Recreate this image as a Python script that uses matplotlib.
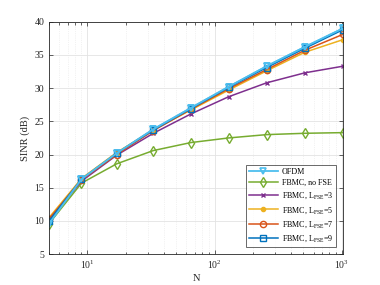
import matplotlib
matplotlib.use("Agg")
import matplotlib.pyplot as plt
from matplotlib.ticker import LogLocator, NullFormatter, MultipleLocator

plt.rcParams['font.family'] = ['Liberation Serif', 'DejaVu Serif']
plt.rcParams['mathtext.fontset'] = 'custom'
plt.rcParams['mathtext.rm'] = 'Liberation Serif'

N = [5, 9, 17, 33, 65, 129, 257, 513, 1025]
ofdm   = [9.6, 16.3, 20.2, 23.8, 27.0, 30.2, 33.3, 36.2, 39.0]
no_fse = [9.6, 15.7, 18.6, 20.6, 21.8, 22.5, 23.0, 23.2, 23.3]
l3     = [10.2, 16.0, 19.9, 23.2, 26.1, 28.7, 30.8, 32.3, 33.3]
l5     = [10.5, 16.4, 20.3, 23.7, 26.7, 29.7, 32.6, 35.4, 37.3]
l7     = [10.3, 16.2, 20.0, 23.6, 26.8, 29.9, 32.8, 35.7, 38.1]
l9     = [10.0, 16.3, 20.2, 23.7, 26.9, 30.1, 33.1, 36.0, 38.8]

labels = ['OFDM', 'FBMC, no FSE',
          'FBMC, L$_\\mathregular{FSE}$=3',
          'FBMC, L$_\\mathregular{FSE}$=5',
          'FBMC, L$_\\mathregular{FSE}$=7',
          'FBMC, L$_\\mathregular{FSE}$=9']

fig = plt.figure(figsize=(3.8, 2.85), dpi=100)
ax = fig.add_axes([0.129, 0.108, 0.774, 0.816])

ax.plot(N, ofdm, color='#4DBEEE', marker='v', ms=5, mfc='none', mew=1.2, lw=1.3, label=labels[0])
ax.plot(N, no_fse, color='#77AC30', marker='d', ms=5, mfc='none', mew=1.0, lw=1.1, label=labels[1])
ax.plot(N, l3, color='#7E2F8E', marker='x', ms=3.5, mew=1.0, lw=1.1, label=labels[2])
ax.plot(N, l5, color='#EDB120', marker='.', ms=6, lw=1.1, label=labels[3])
ax.plot(N, l7, color='#D95319', marker='o', ms=4.5, mfc='none', mew=1.0, lw=1.1, label=labels[4])
ax.plot(N, l9, color='#0072BD', marker='s', ms=4, mfc='none', mew=1.0, lw=1.1, label=labels[5])

# redraw OFDM on top like reference
ax.plot(N, ofdm, color='#4DBEEE', marker='v', ms=5, mfc='none', mew=1.2, lw=1.3)

ax.set_xscale('log')
ax.set_xlim(5, 1025)
ax.set_ylim(5, 40)
ax.yaxis.set_major_locator(MultipleLocator(5))
ax.xaxis.set_major_locator(LogLocator(base=10))
ax.xaxis.set_minor_locator(LogLocator(base=10, subs=range(2, 10)))
ax.xaxis.set_minor_formatter(NullFormatter())

ax.grid(True, which='major', color='#e3e3e3', lw=0.6)
ax.grid(True, which='minor', axis='x', color='#e6e6e6', lw=0.5, ls=':')
ax.set_axisbelow(True)

ax.tick_params(which='both', direction='in', top=True, right=True, labelsize=7, colors='#262626')
ax.tick_params(which='major', length=3, width=0.5)
ax.tick_params(which='minor', length=1.8, width=0.5)
for s in ax.spines.values():
    s.set_color('#262626')
    s.set_linewidth(0.6)

ax.set_xlabel('N', fontsize=7.5, labelpad=2, color='#262626')
ax.set_ylabel('SINR (dB)', fontsize=7.5, labelpad=3, color='#262626')

leg = ax.legend(loc='lower right', fontsize=5.8, frameon=True, fancybox=False,
                edgecolor='#262626', handlelength=3.6, borderaxespad=0.9,
                labelspacing=0.4, borderpad=0.35, handletextpad=0.5)
leg.get_frame().set_linewidth(0.6)

fig.savefig('out.png', dpi=100)
